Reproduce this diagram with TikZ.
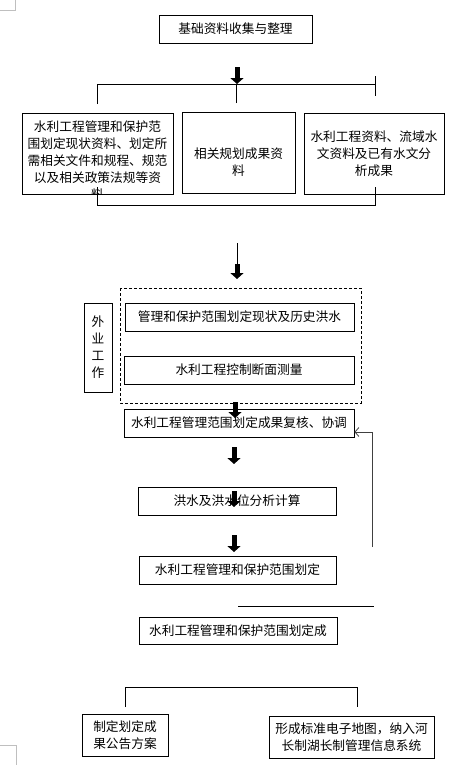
\documentclass[tikz,border=0pt]{standalone}
\usepackage{fontspec}
\newfontfamily\cjk{Noto Sans CJK SC}
\usetikzlibrary{arrows.meta,positioning,calc}
\tikzset{
  box/.style={draw,line width=0.8pt,inner sep=0pt,align=center,
    font=\cjk\fontsize{12.7}{17}\selectfont},
  txt/.style={inner sep=0pt,align=center,font=\cjk\fontsize{12.7}{17}\selectfont},
  link/.style={line width=0.8pt},
  fatarrow/.style={line width=5pt,-{Triangle[width=13pt,length=6pt]}},
  backlink/.style={line width=0.8pt,black!75,-{Straight Barb[length=4pt,width=9pt]}},
  corner/.style={line width=0.6pt,black!25},
}
\begin{document}
\begin{tikzpicture}[x=1pt,y=-1pt]
  \useasboundingbox (0,0) rectangle (471,772);
  % corner marks
  \draw[corner] (0,10) -- (15,10) -- (15,0);
  \draw[corner] (0,745) -- (16,745) -- (16,765);

  % basic data
  \node[box,minimum width=153pt,minimum height=28pt] (base) at (235.5,29) {基础资料收集与整理};

  \node[box,minimum width=151pt,minimum height=81pt] (dataL) at (97.5,153.5) {};
  \node[box,minimum width=113pt,minimum height=81pt] (dataM) at (238.5,152.5) {};
  \node[box,minimum width=140pt,minimum height=81pt] (dataR) at (374,153.5) {};
  \begin{scope}
    \clip (dataL.north west) rectangle (dataL.south east);
    \node[txt] (dataLt) at (97.5,161) {水利工程管理和保护范\\围划定现状资料、划定所\\需相关文件和规程、规范\\以及相关政策法规等资\\料};
  \end{scope}
  \node[txt] (dataMt) at (238.5,162) {相关规划成果资\\料};
  \node[txt] (dataRt) at (374,154) {水利工程资料、流域水\\文资料及已有水文分\\析成果};

  % brackets round the three data boxes
  \coordinate (bl) at (97,104);
  \coordinate (bm) at (236,103);
  \coordinate (br) at (375,76);
  \draw[link] (bl) |- (375,84);
  \draw[link] (br) -- (375,96);
  \draw[link] (bm) -- (236,84);
  \draw[link] (97,187) -- (97,205) -- (375,205) -- (375,187);

  % fieldwork
  \draw[dashed,dash pattern=on 3pt off 2pt,line width=0.8pt] (120,288) rectangle (361,403);
  \node[box,minimum width=229pt,minimum height=28pt] (field1) at (239.5,317) {管理和保护范围划定现状及历史洪水};
  \node[box,minimum width=230pt,minimum height=28pt] (field2) at (239,370) {水利工程控制断面测量};
  \node[box,minimum width=28pt,minimum height=89pt] (fieldtag) at (98,347.5) {外\\业\\工\\作};

  % main chain
  \node[box,minimum width=230pt,minimum height=28pt] (review) at (239,423) {水利工程管理范围划定成果复核、协调};
  \node[box,minimum width=198pt,minimum height=28pt] (flood) at (237,501) {洪水及洪水位分析计算};
  \node[box,minimum width=197pt,minimum height=28pt] (protect) at (237.5,570) {水利工程管理和保护范围划定};
  \draw[link] (238,606) -- (374,606);
  \node[box,minimum width=198pt,minimum height=27pt] (result) at (238,630.5) {水利工程管理和保护范围划定成};

  % outputs
  \node[box,minimum width=86pt,minimum height=42pt] (notice) at (125,735) {制定划定成\\果公告方案};
  \node[box,minimum width=165pt,minimum height=42pt] (emap) at (351.5,737) {形成标准电子地图，纳入河\\长制湖长制管理信息系统};
  \draw[link] (125,707) -- (125,687) -- (357,687) -- (357,707);

  % feedback
  \coordinate (back) at (372,547);
  \draw[backlink] (back) |- ($(review.east)+(0,9)$);

  % fat arrows
  \draw[fatarrow] (237,67) -- (237,84);
  \draw[link] (237,243) -- (237,266);
  \draw[fatarrow] (237,264) -- (237,279);
  \draw[fatarrow] (235,402) -- (235,418);
  \draw[fatarrow] (234,447) -- (234,464);
  \draw[fatarrow] (234,491) -- (234,507);
  \draw[fatarrow] (234,535) -- (234,552);
\end{tikzpicture}
\end{document}
